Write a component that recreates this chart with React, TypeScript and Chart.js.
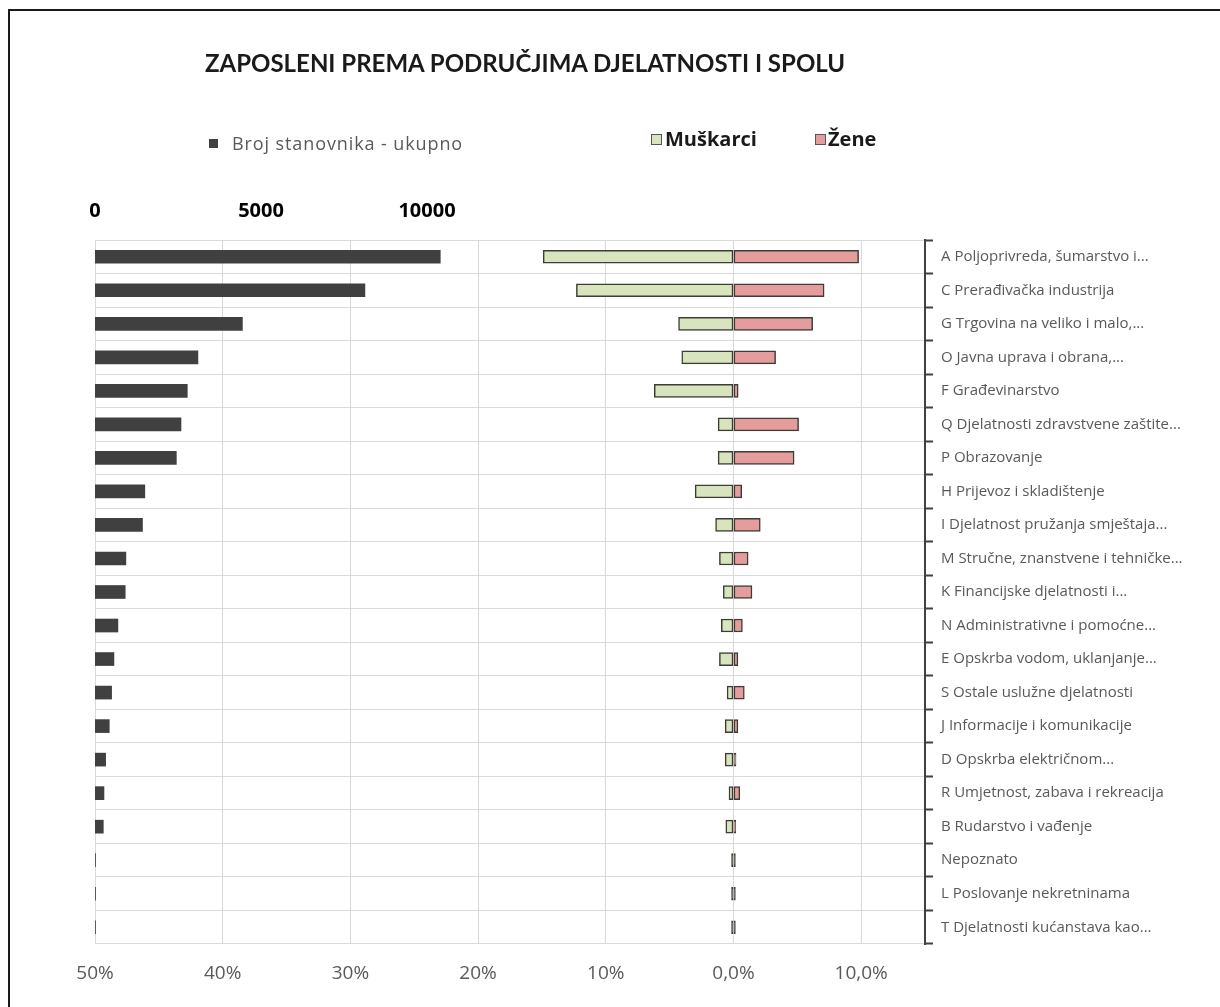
import React, { useEffect, useRef } from "react";
import { Chart, registerables } from "chart.js";

Chart.register(...registerables);

const categories = [
  "A Poljoprivreda, šumarstvo i...",
  "C Prerađivačka industrija",
  "G Trgovina na veliko i malo,...",
  "O Javna uprava i obrana,...",
  "F Građevinarstvo",
  "Q Djelatnosti zdravstvene zaštite...",
  "P Obrazovanje",
  "H Prijevoz i skladištenje",
  "I Djelatnost pružanja smještaja...",
  "M Stručne, znanstvene i tehničke...",
  "K Financijske djelatnosti i...",
  "N Administrativne i pomoćne...",
  "E Opskrba vodom, uklanjanje...",
  "S Ostale uslužne djelatnosti",
  "J Informacije i komunikacije",
  "D Opskrba električnom...",
  "R Umjetnost, zabava i rekreacija",
  "B Rudarstvo i vađenje",
  "Nepoznato",
  "L Poslovanje nekretninama",
  "T Djelatnosti kućanstava kao...",
];

const ukupno = [
  10400, 8130, 4440, 3100, 2780, 2590, 2450, 1500, 1430, 930, 910, 690, 570,
  500, 430, 320, 270, 250, 15, 15, 15,
];

const muskarci = [
  -0.149, -0.123, -0.043, -0.0405, -0.062, -0.012, -0.012, -0.03, -0.014,
  -0.011, -0.008, -0.0095, -0.011, -0.005, -0.0065, -0.0065, -0.0035, -0.006,
  -0.0015, -0.0015, -0.0015,
];

const zene = [
  0.098, 0.071, 0.062, 0.033, 0.0037, 0.051, 0.0475, 0.0065, 0.021, 0.0115,
  0.0145, 0.007, 0.0035, 0.0085, 0.0035, 0.002, 0.005, 0.0018, 0.0015, 0.0015,
  0.0015,
];

const bottomTickValues = [-0.5, -0.4, -0.3, -0.2, -0.1, 0, 0.1];
const bottomTickLabels = ["50%", "40%", "30%", "20%", "10%", "0,0%", "10,0%"];
const topTickValues = [0, 5000, 10000];
const topTickLabels = ["0", "5000", "10000"];

const titleText = "ZAPOSLENI PREMA PODRUČJIMA DJELATNOSTI I SPOLU";
const legendTotal = "Broj stanovnika - ukupno";
const legendMen = "Muškarci";
const legendWomen = "Žene";

const COLOR_TOTAL = "#404040";
const COLOR_MEN = "#d7e4bd";
const COLOR_WOMEN = "#e49c9c";
const COLOR_EDGE = "#3d3d35";
const FONT = "'Open Sans', sans-serif";

// bars thinner than their own outline show only the outline colour
const fillOrEdge = (fill: string) => (ctx: any) =>
  Math.abs(ctx.raw ?? 0) < 0.0017 ? COLOR_EDGE : fill;

export default function App() {
  const canvasRef = useRef<HTMLCanvasElement | null>(null);

  useEffect(() => {
    if (!canvasRef.current) return;
    const chart = new Chart(canvasRef.current, {
      type: "bar",
      data: {
        labels: categories,
        datasets: [
          {
            label: legendMen,
            data: muskarci,
            xAxisID: "x",
            backgroundColor: fillOrEdge(COLOR_MEN),
            borderColor: COLOR_EDGE,
            borderWidth: 1.5,
            borderSkipped: false,
            barThickness: 13,
          },
          {
            label: legendWomen,
            data: zene,
            xAxisID: "x",
            backgroundColor: fillOrEdge(COLOR_WOMEN),
            borderColor: COLOR_EDGE,
            borderWidth: 1.5,
            borderSkipped: false,
            barThickness: 13,
          },
          {
            label: legendTotal,
            data: ukupno,
            xAxisID: "x2",
            backgroundColor: COLOR_TOTAL,
            borderWidth: 0,
            barThickness: 13,
          },
        ],
      },
      options: {
        indexAxis: "y",
        responsive: false,
        animation: false,
        devicePixelRatio: 1,
        layout: { padding: { left: 95, top: 200, right: 0, bottom: 0 } },
        plugins: {
          legend: { display: false },
          title: { display: false },
          tooltip: { enabled: false },
        },
        scales: {
          x: {
            type: "linear",
            position: "bottom",
            min: -0.5,
            max: 0.15,
            afterBuildTicks: (s: any) => {
              s.ticks = bottomTickValues.map((v) => ({ value: v }));
            },
            afterFit: (s: any) => {
              s.height = 63;
            },
            grid: { color: "#d9d9d9", drawTicks: false, lineWidth: 1 },
            border: { display: false },
            ticks: {
              padding: 18,
              color: "#595959",
              font: { family: FONT, size: 19 },
              callback: (_v: any, i: number) => bottomTickLabels[i],
            },
          },
          x2: {
            type: "linear",
            position: "top",
            min: 0,
            max: 25000,
            afterBuildTicks: (s: any) => {
              s.ticks = topTickValues.map((v) => ({ value: v }));
            },
            afterFit: (s: any) => {
              s.height = 40;
            },
            grid: { display: false, drawTicks: false },
            border: { display: false },
            ticks: {
              padding: 17,
              color: "#000000",
              font: { family: FONT, size: 20, weight: "bold" },
              callback: (_v: any, i: number) => topTickLabels[i],
            },
          },
          y: {
            type: "category",
            position: "right",
            stacked: true,
            afterFit: (s: any) => {
              s.width = 295;
            },
            grid: {
              offset: true,
              color: "#d9d9d9",
              tickColor: "#404040",
              tickLength: 8,
              tickWidth: 2,
            },
            border: { color: "#404040", width: 2 },
            ticks: {
              autoSkip: false,
              padding: 8,
              color: "#595959",
              font: { family: FONT, size: 15 },
            },
          },
        },
      },
    });
    return () => chart.destroy();
  }, []);

  const swatch = (bg: string, size: number, border: string) => ({
    display: "inline-block",
    width: size,
    height: size,
    background: bg,
    border: border,
    boxSizing: "border-box" as const,
  });

  return (
    <div
      style={{
        position: "fixed",
        left: 0,
        top: 0,
        width: 1220,
        height: 1007,
        overflow: "hidden",
        background: "#ffffff",
        fontFamily: FONT,
      }}
    >
      <canvas
        ref={canvasRef}
        width={1220}
        height={1007}
        style={{ position: "absolute", left: 0, top: 0 }}
      />
      <div
        style={{
          position: "absolute",
          left: 8,
          top: 9,
          width: 1400,
          height: 1200,
          border: "2px solid #1a1a1a",
          pointerEvents: "none",
        }}
      />
      <div
        style={{
          position: "absolute",
          left: 205,
          top: 48,
          fontFamily: "Lato, sans-serif",
          fontSize: 24,
          fontWeight: 700,
          color: "#1a1a1a",
          whiteSpace: "nowrap",
          lineHeight: "30px",
        }}
      >
        {titleText}
      </div>
      <div
        style={{
          position: "absolute",
          left: 209,
          top: 131,
          fontSize: 18,
          letterSpacing: 0.9,
          color: "#595959",
          whiteSpace: "nowrap",
          lineHeight: "24px",
          display: "flex",
          alignItems: "center",
        }}
      >
        <span style={{ ...swatch(COLOR_TOTAL, 9, "none"), marginRight: 14 }} />
        {legendTotal}
      </div>
      <div
        style={{
          position: "absolute",
          left: 651,
          top: 127,
          fontSize: 20,
          fontWeight: 700,
          color: "#1a1a1a",
          whiteSpace: "nowrap",
          lineHeight: "24px",
          display: "flex",
          alignItems: "center",
        }}
      >
        <span
          style={{ ...swatch(COLOR_MEN, 11, "1px solid #555"), marginRight: 3 }}
        />
        {legendMen}
      </div>
      <div
        style={{
          position: "absolute",
          left: 815,
          top: 127,
          fontSize: 20,
          fontWeight: 700,
          color: "#1a1a1a",
          whiteSpace: "nowrap",
          lineHeight: "24px",
          display: "flex",
          alignItems: "center",
        }}
      >
        <span
          style={{
            ...swatch(COLOR_WOMEN, 11, "1px solid #555"),
            marginRight: 2,
          }}
        />
        {legendWomen}
      </div>
    </div>
  );
}
